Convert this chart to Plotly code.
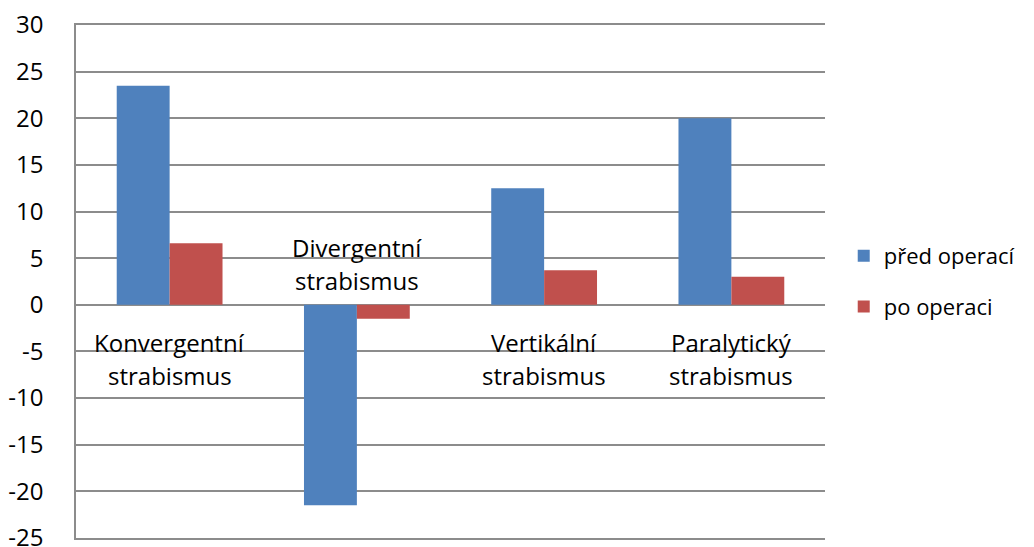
import plotly.graph_objects as go

categories = ["Konvergentní strabismus", "Divergentní strabismus", "Vertikální strabismus", "Paralytický strabismus"]
label_lines = [["Konvergentní", "strabismus"], ["Divergentní", "strabismus"],
               ["Vertikální", "strabismus"], ["Paralytický", "strabismus"]]
pred = [23.5, -21.5, 12.5, 20]
po = [6.6, -1.5, 3.7, 3]
yticks = list(range(-25, 31, 5))

FONT = "Open Sans"
FS = 24
GRID = "#8c8c8c"
fig = go.Figure()
fig.add_bar(x=categories, y=pred, name="před operací", marker=dict(color="#4F81BD", line=dict(width=0)),
            legendgroup="a")
fig.add_bar(x=categories, y=po, name="po operaci", marker=dict(color="#C0504D", line=dict(width=0)),
            legendgroup="b")

for c, lines, v in zip(categories, label_lines, pred):
    shifts = [-38, -71] if v >= 0 else [57, 24]
    for t, s in zip(lines, shifts):
        fig.add_annotation(x=c, y=0, xref="x", yref="y", text=t, showarrow=False,
                           yanchor="middle", yshift=s, font=dict(family=FONT, size=FS, color="#000"))

fig.update_layout(
    width=1034, height=547,
    margin=dict(l=68, r=217, t=17, b=17, autoexpand=False),
    paper_bgcolor="white", plot_bgcolor="white",
    barmode="group", bargap=0.435, bargroupgap=0,
    font=dict(family=FONT, size=FS, color="#000"),
    legend=dict(x=1.025, xanchor="left", y=0.5, yanchor="middle", xref="paper",
                font=dict(family=FONT, size=22), tracegroupgap=19, itemwidth=30,
                bgcolor="rgba(0,0,0,0)"),
    xaxis=dict(showticklabels=False, showgrid=False, showline=True, mirror=True,
               linecolor=GRID, linewidth=1.5, zeroline=False, automargin=False),
    yaxis=dict(range=[-25, 30], tickvals=yticks, ticktext=[str(t) for t in yticks],
               showgrid=True, gridcolor=GRID, gridwidth=1.5,
               zeroline=True, zerolinecolor=GRID, zerolinewidth=1.5,
               showline=True, linecolor=GRID, linewidth=1.5,
               ticks="outside", ticklen=0, tickfont=dict(family=FONT, size=FS),
               ticklabelstandoff=26, automargin=False, ticklabeloverflow="allow"),
)
fig.write_html("out.html")
